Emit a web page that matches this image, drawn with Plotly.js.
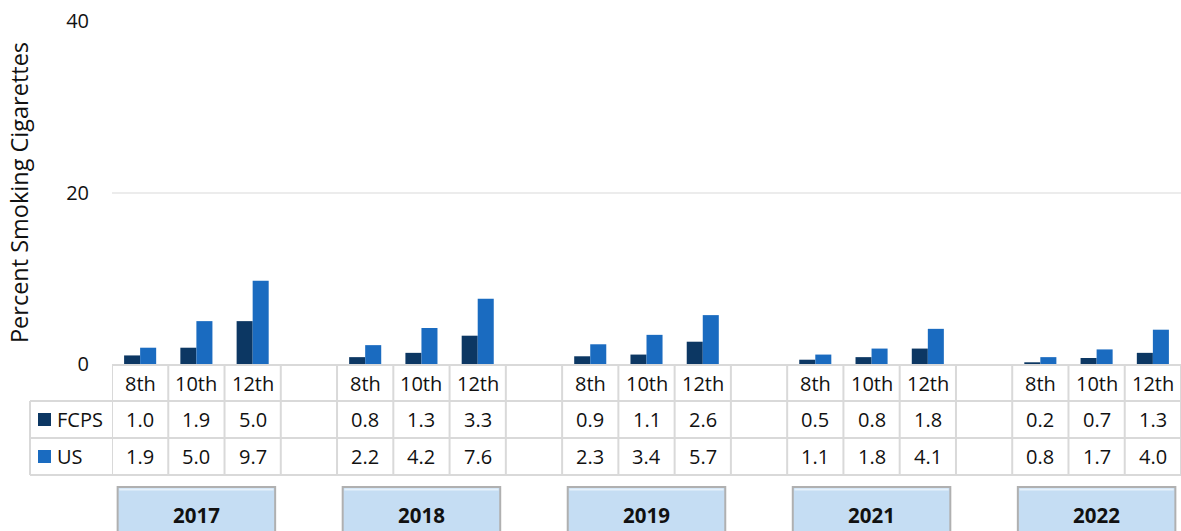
<!DOCTYPE html>
<html>
<head>
<meta charset="utf-8">
<script src="https://cdn.plot.ly/plotly-3.0.1.min.js"></script>
<style>html,body{margin:0;padding:0;background:#fff;}#chart{width:1181px;height:531px;}</style>
</head>
<body>
<div id="chart"></div>
<script>
const years = ['2017', '2018', '2019', '2021', '2022'];
const grades = ['8th', '10th', '12th'];
const seriesNames = ['FCPS', 'US'];
const fcpsValues = [1.0, 1.9, 5.0, 0.8, 1.3, 3.3, 0.9, 1.1, 2.6, 0.5, 0.8, 1.8, 0.2, 0.7, 1.3];
const usValues = [1.9, 5.0, 9.7, 2.2, 4.2, 7.6, 2.3, 3.4, 5.7, 1.1, 1.8, 4.1, 0.8, 1.7, 4.0];
const yTicks = [0, 20, 40];

const colors = ['#0C3763', '#1A6BC0'];
const FONT = '"Open Sans", "Noto Sans", sans-serif';
const TXT = '#111111';
const GRID = '#d9d9d9';

// x position of each category slot: groups of 3 grades separated by one blank slot
const xs = [];
const gradeLabels = [];
years.forEach((y, g) => grades.forEach((gr, k) => { xs.push(g * 4 + k); gradeLabels.push(gr); }));
const nSlots = years.length * 4 - 1;

const traces = [fcpsValues, usValues].map((vals, i) => ({
  type: 'bar', name: seriesNames[i], x: xs, y: vals,
  marker: {color: colors[i]}, hoverinfo: 'skip'
}));

// table geometry in paper units (plot area: 0 -> px 364, 1 -> px 21)
const py = p => (364 - p) / 343;
const rowTop = py(365), row1 = py(401), row2 = py(438), rowBot = py(475);
const hdrMid = py(383), fMid = py(419.5), uMid = py(456.5);
const legLeft = (30 - 112) / 1069;

const shapes = [];
const annotations = [];
const txt = (xref, x, y, text, extra) => Object.assign({
  xref: xref, yref: 'paper', x: x, y: y, text: text, showarrow: false,
  xanchor: 'center', yanchor: 'middle', font: {family: FONT, size: 20, color: TXT}
}, extra || {});

// horizontal lines
shapes.push({type: 'line', xref: 'x', yref: 'paper', x0: -0.5, x1: nSlots - 0.5, y0: rowTop, y1: rowTop, line: {color: GRID, width: 2}, layer: 'above'});
[row1, row2, rowBot].forEach(yy => {
  shapes.push({type: 'line', xref: 'paper', yref: 'paper', x0: legLeft, x1: 1, y0: yy, y1: yy, line: {color: GRID, width: 2}});
});
// vertical lines
for (let i = 0; i <= nSlots; i++) {
  shapes.push({type: 'line', xref: 'x', yref: 'paper', x0: i - 0.5, x1: i - 0.5, y0: rowTop, y1: rowBot, line: {color: GRID, width: 2}});
}
shapes.push({type: 'line', xref: 'paper', yref: 'paper', x0: legLeft, x1: legLeft, y0: row1, y1: rowBot, line: {color: GRID, width: 2}});

// header + values
xs.forEach((x, i) => {
  annotations.push(txt('x', x, hdrMid, gradeLabels[i]));
  annotations.push(txt('x', x, fMid, fcpsValues[i].toFixed(1)));
  annotations.push(txt('x', x, uMid, usValues[i].toFixed(1)));
});

// legend keys in table
[fMid, uMid].forEach((ym, i) => {
  const px0 = (38 - 112) / 1069, px1 = (51 - 112) / 1069;
  const h = 13 / 343 / 2;
  shapes.push({type: 'rect', xref: 'paper', yref: 'paper', x0: px0, x1: px1, y0: ym - h, y1: ym + h, fillcolor: colors[i], line: {width: 0}});
  annotations.push(txt('paper', (55 - 112) / 1069, ym, seriesNames[i], {xanchor: 'left'}));
});

// year boxes
years.forEach((yr, g) => {
  const c = g * 4 + 1;
  shapes.push({type: 'rect', xref: 'x', yref: 'paper', x0: c - 1.4, x1: c + 1.4, y0: py(533), y1: py(487), fillcolor: '#C5DDF3', line: {color: '#B0B0B0', width: 2}});
  shapes.push({type: 'line', xref: 'x', yref: 'paper', x0: c - 1.37, x1: c + 1.37, y0: py(489.5), y1: py(489.5), line: {color: '#E6F1FB', width: 2}});
  annotations.push(txt('x', c, py(515), '<b>' + yr + '</b>', {font: {family: FONT, size: 20.5, color: TXT}}));
});

const layout = {
  width: 1181, height: 531,
  margin: {l: 112, r: 0, t: 21, b: 167, pad: 0},
  paper_bgcolor: '#fff', plot_bgcolor: '#fff',
  barmode: 'group', bargap: 0.43, bargroupgap: 0,
  showlegend: false,
  xaxis: {range: [-0.5, nSlots - 0.5], showticklabels: false, showgrid: false, zeroline: false, ticks: '', fixedrange: true},
  yaxis: {
    range: [0, 40], tickvals: yTicks, ticktext: yTicks.map(String),
    showgrid: true, gridcolor: '#ececec', gridwidth: 2, zeroline: false, ticks: '',
    ticklabelstandoff: 22,
    tickfont: {family: FONT, size: 20, color: TXT},
    title: {text: 'Percent Smoking Cigarettes', font: {family: FONT, size: 23.5, color: TXT}, standoff: 30},
    fixedrange: true
  },
  shapes: shapes,
  annotations: annotations
};

Plotly.newPlot('chart', traces, layout, {displayModeBar: false, staticPlot: true});
</script>
</body>
</html>
